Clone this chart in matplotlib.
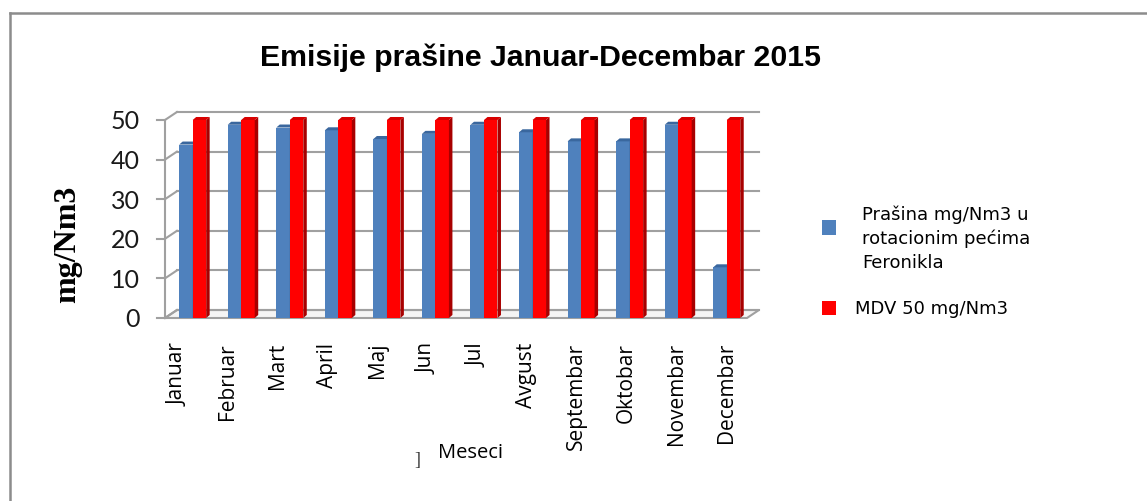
import matplotlib.pyplot as plt
from matplotlib.patches import Polygon, Rectangle
import numpy as np

months = ['Januar', 'Februar', 'Mart', 'April', 'Maj', 'Jun', 'Jul',
          'Avgust', 'Septembar', 'Oktobar', 'Novembar', 'Decembar']
prasina = [43.8, 48.8, 48.1, 47.4, 45.2, 46.5, 48.8, 46.9, 44.6, 44.6, 48.8, 12.8]
mdv = [50, 50, 50, 50, 50, 50, 50, 50, 50, 50, 50, 50]
y_ticks = [0, 10, 20, 30, 40, 50]
legend_labels = ['Prašina mg/Nm3 u\nrotacionim pećima\nFeronikla', 'MDV 50 mg/Nm3']

W, H = 1147, 501
fig = plt.figure(figsize=(W / 100, H / 100), dpi=100)


def px(x, y):
    # pixel position (from top-left) -> figure fraction
    return x / W, 1 - y / H


# chart area
ax = fig.add_axes([150 / W, 1 - 330 / H, 630 / W, 230 / H])
ax.set_xlim(-0.879, 12.097)
ax.set_ylim(-3.03, 55.05)
ax.axis('off')

grid_col = '#a0a0a0'
DX, DY = 0.247, 2.02          # depth of the walls
XF = -0.571                   # front edge of the left wall
XR = 11.417                   # front right corner of the floor
BW = 0.278                    # bar width
BDX, BDY = 0.072, 0.76        # bar depth

# floor
ax.add_patch(Polygon([(XF, 0), (XR, 0), (XR + DX, DY), (XF + DX, DY)],
                     closed=True, facecolor='#f4f4f4', edgecolor=grid_col,
                     lw=1.5, zorder=1))

# back wall grid + left wall diagonals + ticks
for v in y_ticks:
    ax.plot([XF + DX, XR + DX], [v + DY, v + DY], color=grid_col, lw=1.5, zorder=1)
    ax.plot([XF, XF + DX], [v, v + DY], color=grid_col, lw=1.5, zorder=1)
    ax.plot([XF - 0.165, XF], [v, v], color=grid_col, lw=1.5, zorder=1)
    ax.text(XF - 0.52, v - 0.5, str(v), ha='right', va='center',
            fontsize=18, family='Lato', color='#1a1a1a')
ax.plot([XF, XF], [0, max(y_ticks)], color=grid_col, lw=1.5, zorder=1)


def bar3d(x0, h, front, side, top):
    ax.bar(x0, h, width=BW, align='edge', color=front, lw=0, zorder=3)
    ax.add_patch(Polygon([(x0 + BW, 0), (x0 + BW + BDX, BDY),
                          (x0 + BW + BDX, h + BDY), (x0 + BW, h)],
                         closed=True, facecolor=side, lw=0, zorder=3))
    ax.add_patch(Polygon([(x0, h), (x0 + BW, h), (x0 + BW + BDX, h + BDY),
                          (x0 + BDX, h + BDY)],
                         closed=True, facecolor=top, lw=0, zorder=3))


for i in range(len(months)):
    bar3d(i - BW, prasina[i], '#4f81bd', '#3b6497', '#3a679e')
    bar3d(i, mdv[i], '#ff0000', '#a80000', '#d80000')

# month labels
for i, m in enumerate(months):
    ax.text(i * 1.026 - 0.30, -6.3, m, rotation=90, ha='center', va='top',
            fontsize=15, family='Open Sans', color='black', clip_on=False)

# title and axis titles
fig.text(*px(540, 66), 'Emisije prašine Januar-Decembar 2015', ha='center',
         va='baseline', fontsize=21.8, fontweight='bold', family='Liberation Sans')
fig.text(*px(68, 244), 'mg/Nm3', rotation=90, ha='center', va='center',
         fontsize=23, fontweight='bold', family='Liberation Serif')
fig.text(*px(417, 460), ']', ha='center', va='center', fontsize=13,
         family='Liberation Serif', color='#333333')
fig.text(*px(438, 458), 'Meseci', ha='left', va='baseline', fontsize=14.5,
         family='Open Sans')

# legend
fig.patches.append(Rectangle(px(822, 235), 14 / W, 15 / H, transform=fig.transFigure,
                             facecolor='#4f81bd', edgecolor='none'))
fig.patches.append(Rectangle(px(822, 315), 14 / W, 14 / H, transform=fig.transFigure,
                             facecolor='#ff0000', edgecolor='none'))
for k, line in enumerate(legend_labels[0].split('\n')):
    fig.text(*px(862, 220 + 24 * k), line, ha='left', va='baseline',
             fontsize=13, family='DejaVu Sans')
fig.text(*px(855, 314), legend_labels[1], ha='left', va='baseline',
         fontsize=13, family='DejaVu Sans')

# outer frame (top and left edges)
fig.add_artist(plt.Line2D([10 / W, 1], [1 - 13 / H, 1 - 13 / H],
                          transform=fig.transFigure, color='#8c8c8c', lw=1.8))
fig.add_artist(plt.Line2D([10 / W, 10 / W], [0, 1 - 13 / H],
                          transform=fig.transFigure, color='#8c8c8c', lw=1.8))

fig.savefig('out.png', dpi=100)
